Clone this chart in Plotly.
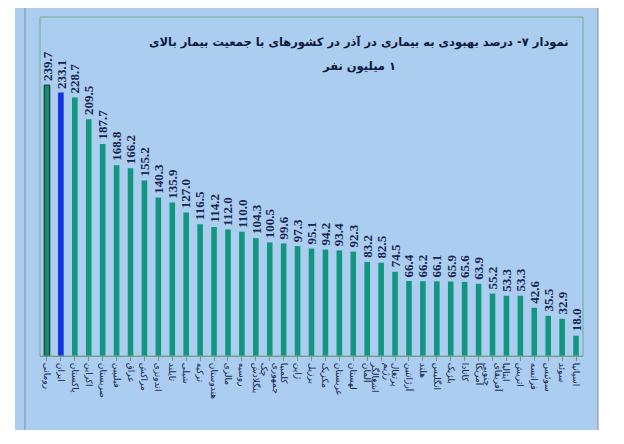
import plotly.graph_objects as go

# ── data ─────────────────────────────────────────────────────────────────────
countries = [
    "رومانی", "ایران", "پاکستان", "اکراین", "صربستان", "فیلیپین", "عراق",
    "مراکش", "اندونزی", "تایلند", "شیلی", "ترکیه", "هندوستان", "مالزی",
    "روسیه", "بنگلادش", "جمهوری<br>چک", "کلمبیا", "ژاپن", "برزیل", "مکزیک",
    "عربستان", "لهستان", "آلمان", "رژیم<br>اشغالگر", "پرتغال", "آرژانتین",
    "هلند", "انگلیس", "بلژیک", "کانادا", "آمریکا", "آفریقای<br>جنوبی",
    "ایتالیا", "اتریش", "فرانسه", "سوئیس", "سوئد", "اسپانیا",
]
recovery_pct = [
    239.7, 233.1, 228.7, 209.5, 187.7, 168.8, 166.2, 155.2, 140.3, 135.9,
    127.0, 116.5, 114.2, 112.0, 110.0, 104.3, 100.5, 99.6, 97.3, 95.1,
    94.2, 93.4, 92.3, 83.2, 82.5, 74.5, 66.4, 66.2, 66.1, 65.9,
    65.6, 63.9, 55.2, 53.3, 53.3, 42.6, 35.5, 32.9, 18.0,
]
title_line1 = "نمودار ۷- درصد بهبودی به بیماری در آذر در کشورهای با جمعیت بیمار بالای"
title_line2 = "۱ میلیون نفر"

# ── styling ──────────────────────────────────────────────────────────────────
TEAL = "#12967d"
BLUE = "#1430e0"
BG = "#aacdf0"
NAVY = "#17264f"
RLM = "\u200f"  # force right-to-left base for Persian strings

OFF = 8  # page body margin
W, H = 624 - OFF, 444 - OFF
L, R, T, B = 32, 41, 9, 88
pw, ph = W - L - R, H - T - B


# page pixel -> paper coords
def px_x(x):
    return (x - OFF - L) / pw


def px_y(y):
    return (H - B - (y - OFF)) / ph


xs = list(range(len(countries)))
colors = [TEAL] * len(countries)
colors[0] = "#178a70"
colors[1] = BLUE
line_w = [0] * len(countries)
line_w[0] = 1

fig = go.Figure(go.Bar(
    x=xs,
    y=recovery_pct,
    marker=dict(color=colors, line=dict(color="#0b2b22", width=line_w)),
))

# value labels, rotated, sitting on top of each bar
for x, v in zip(xs, recovery_pct):
    fig.add_annotation(x=x, y=v, text=f"{v:.1f}", showarrow=False,
                       textangle=-90, xanchor="center", yanchor="bottom", yshift=2,
                       font=dict(family="Liberation Serif", size=13, color=NAVY, weight="bold"))

# outer light-blue panel with grey frame, green plot border
fig.add_shape(type="rect", xref="paper", yref="paper", layer="below",
              x0=px_x(15), x1=px_x(598), y0=px_y(430), y1=px_y(3),
              fillcolor=BG, line=dict(width=0))
for x0, y0, x1, y1 in [(25, 3, 598, 3), (25, 3, 25, 430), (598, 3, 598, 430)]:
    fig.add_shape(type="line", xref="paper", yref="paper",
                  x0=px_x(x0), x1=px_x(x1), y0=px_y(y0), y1=px_y(y1),
                  line=dict(color="#7f8c9a", width=1))
fig.add_shape(type="rect", xref="paper", yref="paper",
              x0=0, x1=1, y0=0, y1=1,
              line=dict(color="#6fae86", width=1))

for txt, y in [(title_line1, 42), (title_line2, 66)]:
    fig.add_annotation(text=RLM + txt + RLM, xref="paper", yref="paper",
                       x=px_x(359), y=px_y(y), showarrow=False,
                       xanchor="center", yanchor="middle",
                       font=dict(family="DejaVu Sans", size=11.5, color="#0d1a3a", weight="bold"))

fig.update_layout(
    width=W, height=H,
    margin=dict(l=L, r=R, t=T, b=B, autoexpand=False),
    paper_bgcolor="white",
    plot_bgcolor="rgba(0,0,0,0)",
    showlegend=False,
    bargap=0.6,
    xaxis=dict(
        tickmode="array",
        tickvals=xs,
        ticktext=countries,
        tickangle=90,
        tickson="boundaries",
        ticks="outside", ticklen=4, tickcolor="#7f8c9a",
        showline=True, linecolor="#7f8c9a", linewidth=1,
        showgrid=False, zeroline=False, automargin=False,
        range=[-0.5, len(countries) - 0.5],
        tickfont=dict(family="DejaVu Sans", size=9, color=NAVY),
    ),
    yaxis=dict(range=[0, 300], visible=False, showgrid=False, automargin=False),
)

fig.write_html("out.html")
